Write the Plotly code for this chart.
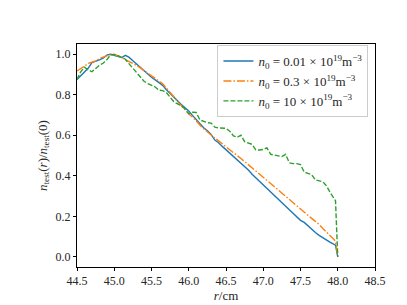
import plotly.graph_objects as go

r = [44.50, 44.55, 44.60, 44.65, 44.70, 44.75, 44.80, 44.85, 44.90, 44.95,
     45.00, 45.05, 45.10, 45.15, 45.20, 45.25, 45.30, 45.35, 45.40, 45.45,
     45.50, 45.55, 45.60, 45.65, 45.70, 45.75, 45.80, 45.85, 45.90, 45.95,
     46.00, 46.05, 46.10, 46.15, 46.20, 46.25, 46.30, 46.35, 46.40, 46.45,
     46.50, 46.55, 46.60, 46.65, 46.70, 46.75, 46.80, 46.85, 46.90, 46.95,
     47.00, 47.05, 47.10, 47.15, 47.20, 47.25, 47.30, 47.35, 47.40, 47.45,
     47.50, 47.55, 47.60, 47.65, 47.70, 47.75, 47.80, 47.85, 47.90, 47.97,
     48.00]

n_001 = [0.875, 0.895, 0.915, 0.930, 0.958, 0.964, 0.972, 0.980, 0.995, 0.999,
         0.994, 0.987, 0.983, 0.994, 0.984, 0.967, 0.950, 0.936, 0.920, 0.902,
         0.886, 0.873, 0.858, 0.846, 0.824, 0.806, 0.786, 0.765, 0.752, 0.735,
         0.720, 0.698, 0.676, 0.655, 0.637, 0.622, 0.604, 0.576, 0.563, 0.545,
         0.528, 0.516, 0.496, 0.478, 0.464, 0.448, 0.428, 0.408, 0.390, 0.372,
         0.355, 0.340, 0.322, 0.300, 0.282, 0.265, 0.250, 0.232, 0.215, 0.196,
         0.180, 0.170, 0.152, 0.135, 0.120, 0.106, 0.094, 0.082, 0.072, 0.058,
         0.000]

n_03 = [0.917, 0.928, 0.940, 0.955, 0.962, 0.966, 0.978, 0.985, 0.990, 0.998,
        0.998, 0.992, 0.982, 0.973, 0.963, 0.953, 0.944, 0.932, 0.920, 0.908,
        0.895, 0.880, 0.866, 0.854, 0.832, 0.812, 0.790, 0.766, 0.745, 0.722,
        0.705, 0.690, 0.667, 0.650, 0.632, 0.615, 0.600, 0.586, 0.572, 0.558,
        0.545, 0.530, 0.515, 0.500, 0.485, 0.470, 0.455, 0.440, 0.425, 0.410,
        0.394, 0.378, 0.362, 0.346, 0.330, 0.314, 0.298, 0.282, 0.266, 0.250,
        0.235, 0.220, 0.206, 0.190, 0.175, 0.160, 0.140, 0.122, 0.105, 0.078,
        0.000]

n_10 = [0.875, 0.913, 0.936, 0.922, 0.913, 0.930, 0.945, 0.955, 0.972, 0.997,
        0.999, 0.992, 0.985, 0.975, 0.952, 0.930, 0.910, 0.890, 0.866, 0.855,
        0.845, 0.838, 0.822, 0.820, 0.810, 0.790, 0.765, 0.755, 0.745, 0.730,
        0.706, 0.714, 0.712, 0.675, 0.667, 0.662, 0.660, 0.640, 0.636, 0.636,
        0.634, 0.620, 0.597, 0.590, 0.600, 0.568, 0.560, 0.555, 0.528, 0.527,
        0.530, 0.538, 0.506, 0.502, 0.498, 0.495, 0.506, 0.464, 0.460, 0.460,
        0.455, 0.418, 0.412, 0.405, 0.380, 0.375, 0.370, 0.350, 0.316, 0.277,
        0.000]

labels = [
    "<i>n</i><sub>0</sub> = 0.01 × 10<sup>19</sup>m<sup>−3</sup>",
    "<i>n</i><sub>0</sub> = 0.3 × 10<sup>19</sup>m<sup>−3</sup>",
    "<i>n</i><sub>0</sub> = 10 × 10<sup>19</sup>m<sup>−3</sup>",
]
x_ticks = [44.5, 45.0, 45.5, 46.0, 46.5, 47.0, 47.5, 48.0, 48.5]
y_ticks = [0.0, 0.2, 0.4, 0.6, 0.8, 1.0]

font_family = "Liberation Serif, DejaVu Serif, serif"
txt_color = "#262626"

fig = go.Figure()
fig.add_trace(go.Scatter(x=r, y=n_001, mode="lines", name=labels[0],
                         line=dict(color="#1f77b4", width=1.4)))
fig.add_trace(go.Scatter(x=r, y=n_03, mode="lines", name=labels[1],
                         line=dict(color="#ff7f0e", width=1.4,
                                   dash="8px,2px,1.5px,2px")))
fig.add_trace(go.Scatter(x=r, y=n_10, mode="lines", name=labels[2],
                         line=dict(color="#2ca02c", width=1.4,
                                   dash="5px,2px")))

axis_common = dict(
    showgrid=False, zeroline=False, showline=True, mirror=True,
    linecolor="black", linewidth=1, ticks="outside", ticklen=3,
    tickwidth=0.8, tickcolor="black",
    tickfont=dict(family=font_family, size=12, color=txt_color),
)

fig.update_layout(
    width=407, height=305,
    margin=dict(l=69, r=40, t=36, b=34),
    paper_bgcolor="white", plot_bgcolor="white",
    font=dict(family=font_family, color=txt_color),
    showlegend=True,
    legend=dict(
        x=0.978, y=0.995, xanchor="right", yanchor="top",
        bgcolor="rgba(255,255,255,0.8)", bordercolor="#cccccc", borderwidth=1,
        font=dict(family=font_family, size=13, color=txt_color),
        tracegroupgap=0, itemwidth=30,
    ),
    xaxis=dict(range=[44.5, 48.5], tickvals=x_ticks, tickformat=".1f",
               title=dict(text="<i>r</i>/cm", standoff=3,
                          font=dict(family=font_family, size=13, color=txt_color)),
               **axis_common),
    yaxis=dict(range=[-0.05, 1.05], tickvals=y_ticks, tickformat=".1f",
               title=dict(text="<i>n</i><sub>test</sub>(<i>r</i>)/<i>n</i><sub>test</sub>(0)",
                          standoff=5,
                          font=dict(family=font_family, size=13, color=txt_color)),
               **axis_common),
)

fig.write_html("out.html")
